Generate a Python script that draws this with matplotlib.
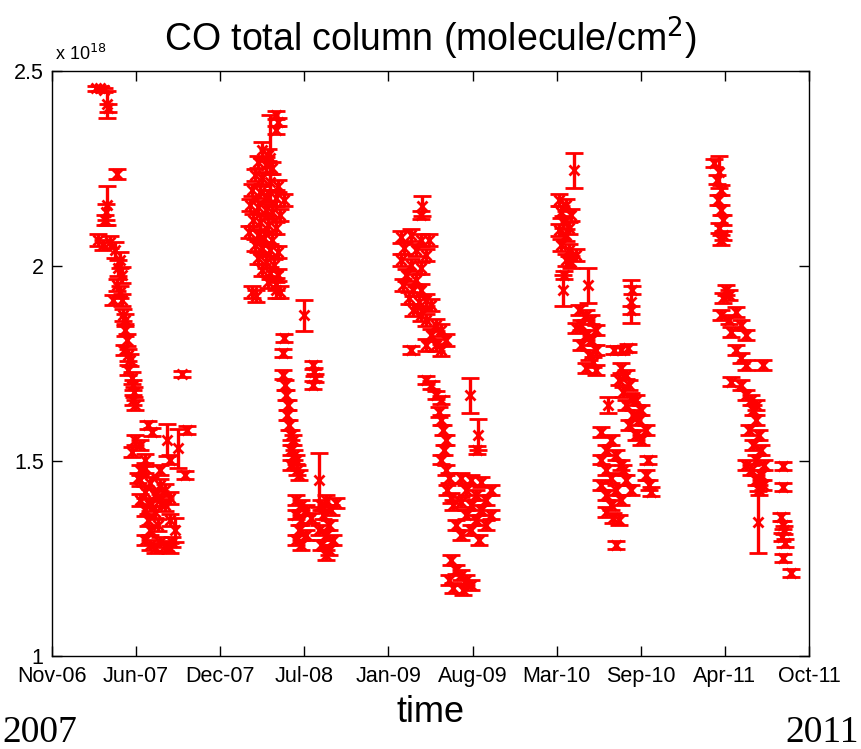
import datetime as dt
import matplotlib
matplotlib.use("Agg")
import matplotlib.pyplot as plt
import matplotlib.dates as mdates
import numpy as np

# decimal year, CO total column (x 1e18 molecule/cm2), error
t_2007 = [2007.186, 2007.212, 2007.238, 2007.258, 2007.264, 2007.323, 2007.258, 2007.251, 2007.245,
          2007.199, 2007.232, 2007.277, 2007.310, 2007.342, 2007.329, 2007.355, 2007.323, 2007.342,
          2007.355, 2007.297, 2007.362, 2007.375, 2007.375, 2007.388, 2007.368, 2007.394, 2007.407,
          2007.394, 2007.420, 2007.427, 2007.433, 2007.427, 2007.440, 2007.745, 2007.524, 2007.550,
          2007.648, 2007.719, 2007.778, 2007.440, 2007.472, 2007.420, 2007.505, 2007.472, 2007.459,
          2007.505, 2007.602, 2007.667, 2007.765, 2007.472, 2007.537, 2007.602, 2007.505, 2007.570,
          2007.635, 2007.472, 2007.537, 2007.602, 2007.667, 2007.505, 2007.570, 2007.635, 2007.524,
          2007.589, 2007.667, 2007.700, 2007.537, 2007.505, 2007.537, 2007.570, 2007.602, 2007.635,
          2007.680, 2007.667]
co_2007 = [2.456, 2.456, 2.451, 2.415, 2.405, 2.236, 2.156, 2.138, 2.118,
           2.067, 2.054, 2.062, 2.041, 2.015, 1.995, 1.977, 1.951, 1.933,
           1.913, 1.913, 1.874, 1.862, 1.836, 1.810, 1.785, 1.772, 1.759,
           1.733, 1.713, 1.695, 1.677, 1.656, 1.644, 1.723, 1.592, 1.574,
           1.554, 1.533, 1.579, 1.554, 1.541, 1.523, 1.503, 1.477, 1.456,
           1.482, 1.477, 1.503, 1.464, 1.451, 1.444, 1.438, 1.421, 1.413,
           1.426, 1.400, 1.387, 1.400, 1.405, 1.374, 1.369, 1.387, 1.349,
           1.336, 1.349, 1.323, 1.323, 1.297, 1.285, 1.277, 1.292, 1.282,
           1.292, 1.277]
err_2007 = [0.006, 0.006, 0.006, 0.035, 0.010, 0.012, 0.050, 0.020, 0.012,
            0.015, 0.012, 0.015, 0.020, 0.020, 0.020, 0.020, 0.015, 0.015,
            0.015, 0.012, 0.015, 0.015, 0.015, 0.015, 0.012, 0.015, 0.015,
            0.012, 0.015, 0.012, 0.012, 0.012, 0.012, 0.008, 0.010, 0.010,
            0.040, 0.050, 0.010, 0.012, 0.012, 0.012, 0.015, 0.012, 0.012,
            0.012, 0.012, 0.012, 0.010, 0.015, 0.015, 0.015, 0.015, 0.015,
            0.015, 0.015, 0.015, 0.015, 0.015, 0.015, 0.015, 0.015, 0.015,
            0.015, 0.015, 0.030, 0.012, 0.012, 0.012, 0.012, 0.012, 0.012,
            0.012, 0.012]

t_2008 = [2008.350, 2008.363, 2008.356, 2008.317, 2008.265, 2008.304, 2008.239, 2008.285, 2008.330,
          2008.220, 2008.265, 2008.317, 2008.369, 2008.200, 2008.252, 2008.297, 2008.350, 2008.402,
          2008.187, 2008.239, 2008.285, 2008.330, 2008.382, 2008.207, 2008.252, 2008.304, 2008.356,
          2008.181, 2008.233, 2008.278, 2008.330, 2008.220, 2008.265, 2008.317, 2008.369, 2008.239,
          2008.291, 2008.343, 2008.265, 2008.317, 2008.369, 2008.304, 2008.356, 2008.200, 2008.226,
          2008.350, 2008.376, 2008.532, 2008.402, 2008.395, 2008.590, 2008.597, 2008.603, 2008.590,
          2008.395, 2008.408, 2008.415, 2008.428, 2008.421, 2008.434, 2008.447, 2008.460, 2008.447,
          2008.467, 2008.480, 2008.447, 2008.486, 2008.499, 2008.629, 2008.480, 2008.512, 2008.545,
          2008.480, 2008.512, 2008.577, 2008.499, 2008.545, 2008.480, 2008.512, 2008.642, 2008.675,
          2008.707, 2008.655, 2008.694, 2008.740, 2008.629, 2008.675, 2008.720, 2008.642, 2008.694,
          2008.675]
co_2008 = [2.387, 2.369, 2.349, 2.277, 2.297, 2.285, 2.267, 2.259, 2.251,
           2.233, 2.226, 2.215, 2.205, 2.195, 2.190, 2.179, 2.174, 2.169,
           2.156, 2.151, 2.144, 2.138, 2.131, 2.118, 2.113, 2.105, 2.097,
           2.087, 2.079, 2.072, 2.067, 2.054, 2.046, 2.041, 2.036, 2.021,
           2.010, 2.003, 1.990, 1.982, 1.977, 1.959, 1.954, 1.933, 1.923,
           1.938, 1.933, 1.874, 1.815, 1.777, 1.746, 1.728, 1.713, 1.695,
           1.721, 1.695, 1.669, 1.644, 1.618, 1.592, 1.567, 1.554, 1.528,
           1.515, 1.503, 1.490, 1.477, 1.464, 1.451, 1.400, 1.387, 1.374,
           1.362, 1.349, 1.354, 1.323, 1.310, 1.297, 1.285, 1.387, 1.400,
           1.374, 1.362, 1.336, 1.392, 1.323, 1.310, 1.297, 1.285, 1.272,
           1.259]
err_2008 = [0.010, 0.010, 0.010, 0.110, 0.020, 0.015, 0.015, 0.020, 0.015,
            0.015, 0.015, 0.020, 0.015, 0.015, 0.015, 0.015, 0.020, 0.015,
            0.015, 0.015, 0.015, 0.015, 0.015, 0.015, 0.020, 0.015, 0.015,
            0.015, 0.015, 0.015, 0.015, 0.015, 0.015, 0.015, 0.015, 0.015,
            0.015, 0.015, 0.015, 0.015, 0.015, 0.015, 0.015, 0.015, 0.015,
            0.020, 0.015, 0.040, 0.010, 0.010, 0.010, 0.010, 0.010, 0.010,
            0.012, 0.012, 0.012, 0.012, 0.012, 0.012, 0.012, 0.012, 0.012,
            0.012, 0.012, 0.012, 0.012, 0.012, 0.070, 0.012, 0.012, 0.012,
            0.012, 0.012, 0.012, 0.012, 0.012, 0.012, 0.012, 0.012, 0.012,
            0.012, 0.012, 0.012, 0.012, 0.012, 0.012, 0.012, 0.012, 0.012,
            0.012]

t_2009 = [2009.299, 2009.292, 2009.162, 2009.227, 2009.292, 2009.344, 2009.182, 2009.260, 2009.325,
          2009.162, 2009.227, 2009.292, 2009.195, 2009.260, 2009.175, 2009.240, 2009.292, 2009.214,
          2009.279, 2009.325, 2009.357, 2009.240, 2009.292, 2009.325, 2009.390, 2009.422, 2009.357,
          2009.455, 2009.390, 2009.422, 2009.325, 2009.227, 2009.325, 2009.357, 2009.390, 2009.422,
          2009.611, 2009.663, 2009.656, 2009.409, 2009.422, 2009.435, 2009.455, 2009.442, 2009.422,
          2009.455, 2009.474, 2009.461, 2009.487, 2009.500, 2009.552, 2009.617, 2009.682, 2009.747,
          2009.585, 2009.650, 2009.715, 2009.552, 2009.617, 2009.682, 2009.747, 2009.585, 2009.650,
          2009.715, 2009.520, 2009.552, 2009.617, 2009.669, 2009.487, 2009.520, 2009.474, 2009.500,
          2009.552, 2009.585, 2009.617, 2009.565]
co_2009 = [2.154, 2.131, 2.074, 2.079, 2.067, 2.067, 2.046, 2.041, 2.028,
           2.015, 2.003, 1.995, 1.977, 1.964, 1.951, 1.938, 1.938, 1.918,
           1.908, 1.913, 1.900, 1.887, 1.874, 1.862, 1.849, 1.836, 1.823,
           1.810, 1.797, 1.785, 1.797, 1.785, 1.708, 1.695, 1.669, 1.656,
           1.669, 1.567, 1.528, 1.626, 1.605, 1.579, 1.554, 1.528, 1.503,
           1.477, 1.456, 1.426, 1.405, 1.387, 1.456, 1.451, 1.446, 1.426,
           1.426, 1.413, 1.400, 1.395, 1.387, 1.374, 1.362, 1.362, 1.349,
           1.336, 1.336, 1.310, 1.323, 1.297, 1.246, 1.221, 1.195, 1.174,
           1.208, 1.195, 1.182, 1.169]
err_2009 = [0.025, 0.010, 0.015, 0.015, 0.015, 0.015, 0.015, 0.015, 0.015,
            0.015, 0.015, 0.015, 0.015, 0.015, 0.015, 0.015, 0.015, 0.015,
            0.015, 0.015, 0.015, 0.015, 0.015, 0.015, 0.015, 0.015, 0.015,
            0.015, 0.015, 0.015, 0.015, 0.010, 0.010, 0.010, 0.010, 0.010,
            0.045, 0.040, 0.010, 0.012, 0.012, 0.012, 0.012, 0.012, 0.012,
            0.012, 0.012, 0.012, 0.012, 0.012, 0.012, 0.012, 0.012, 0.012,
            0.012, 0.012, 0.012, 0.012, 0.012, 0.012, 0.012, 0.012, 0.012,
            0.012, 0.012, 0.012, 0.012, 0.012, 0.012, 0.012, 0.012, 0.012,
            0.012, 0.012, 0.012, 0.012]

t_2010 = [2010.287, 2010.189, 2010.235, 2010.202, 2010.267, 2010.215, 2010.254, 2010.189, 2010.235,
          2010.202, 2010.254, 2010.300, 2010.235, 2010.267, 2010.215, 2010.222, 2010.378, 2010.319,
          2010.365, 2010.397, 2010.332, 2010.300, 2010.430, 2010.365, 2010.397, 2010.332, 2010.430,
          2010.384, 2010.410, 2010.365, 2010.430, 2010.657, 2010.664, 2010.657, 2010.547, 2010.592,
          2010.638, 2010.592, 2010.625, 2010.579, 2010.644, 2010.605, 2010.657, 2010.690, 2010.625,
          2010.722, 2010.670, 2010.709, 2010.644, 2010.755, 2010.690, 2010.722, 2010.508, 2010.462,
          2010.527, 2010.495, 2010.560, 2010.462, 2010.592, 2010.495, 2010.527, 2010.462, 2010.560,
          2010.495, 2010.592, 2010.527, 2010.495, 2010.540, 2010.579, 2010.605, 2010.625, 2010.657,
          2010.768, 2010.755, 2010.774, 2010.787, 2010.560]
co_2010 = [2.246, 2.169, 2.156, 2.138, 2.131, 2.113, 2.097, 2.092, 2.079,
           2.054, 2.041, 2.028, 2.015, 2.010, 1.938, 1.977, 1.951, 1.887,
           1.874, 1.862, 1.849, 1.841, 1.836, 1.823, 1.810, 1.797, 1.785,
           1.772, 1.754, 1.738, 1.733, 1.908, 1.938, 1.887, 1.785, 1.785,
           1.790, 1.738, 1.721, 1.708, 1.695, 1.677, 1.662, 1.656, 1.644,
           1.631, 1.618, 1.605, 1.592, 1.579, 1.567, 1.554, 1.644, 1.574,
           1.554, 1.528, 1.515, 1.503, 1.490, 1.477, 1.456, 1.438, 1.426,
           1.413, 1.400, 1.387, 1.369, 1.354, 1.349, 1.477, 1.451, 1.426,
           1.503, 1.464, 1.438, 1.421, 1.285]
err_2010 = [0.045, 0.015, 0.015, 0.015, 0.015, 0.015, 0.015, 0.015, 0.015,
            0.015, 0.015, 0.015, 0.015, 0.015, 0.040, 0.010, 0.045, 0.012,
            0.012, 0.012, 0.012, 0.012, 0.012, 0.012, 0.012, 0.012, 0.012,
            0.012, 0.012, 0.012, 0.012, 0.055, 0.010, 0.010, 0.010, 0.010,
            0.010, 0.012, 0.012, 0.012, 0.012, 0.012, 0.012, 0.012, 0.012,
            0.012, 0.012, 0.012, 0.012, 0.012, 0.012, 0.012, 0.020, 0.012,
            0.012, 0.012, 0.012, 0.012, 0.012, 0.012, 0.012, 0.012, 0.012,
            0.012, 0.012, 0.012, 0.012, 0.012, 0.012, 0.012, 0.012, 0.012,
            0.010, 0.012, 0.012, 0.012, 0.010]

t_2011 = [2011.197, 2011.229, 2011.216, 2011.242, 2011.223, 2011.242, 2011.255, 2011.229, 2011.255,
          2011.242, 2011.275, 2011.255, 2011.294, 2011.242, 2011.294, 2011.340, 2011.372, 2011.307,
          2011.405, 2011.340, 2011.372, 2011.405, 2011.515, 2011.307, 2011.372, 2011.405, 2011.437,
          2011.470, 2011.450, 2011.470, 2011.424, 2011.489, 2011.450, 2011.502, 2011.470, 2011.522,
          2011.405, 2011.437, 2011.502, 2011.470, 2011.515, 2011.489, 2011.483, 2011.645, 2011.645,
          2011.632, 2011.645, 2011.652, 2011.639, 2011.658, 2011.645, 2011.697]
co_2011 = [2.264, 2.241, 2.221, 2.195, 2.169, 2.144, 2.118, 2.097, 2.079,
           2.067, 1.938, 1.918, 1.926, 1.874, 1.862, 1.882, 1.849, 1.831,
           1.823, 1.785, 1.764, 1.746, 1.746, 1.703, 1.695, 1.669, 1.656,
           1.644, 1.631, 1.605, 1.579, 1.567, 1.541, 1.528, 1.503, 1.490,
           1.490, 1.477, 1.464, 1.451, 1.438, 1.426, 1.344, 1.487, 1.433,
           1.356, 1.336, 1.323, 1.305, 1.290, 1.251, 1.213]
err_2011 = [0.010, 0.040, 0.012, 0.012, 0.012, 0.012, 0.012, 0.012, 0.012,
            0.012, 0.012, 0.012, 0.012, 0.012, 0.012, 0.012, 0.012, 0.012,
            0.012, 0.012, 0.012, 0.012, 0.012, 0.012, 0.012, 0.012, 0.012,
            0.012, 0.012, 0.012, 0.012, 0.012, 0.012, 0.012, 0.012, 0.012,
            0.012, 0.012, 0.012, 0.012, 0.012, 0.012, 0.080, 0.010, 0.010,
            0.010, 0.010, 0.010, 0.010, 0.010, 0.010, 0.010]

tick_labels = ["Nov-06", "Jun-07", "Dec-07", "Jul-08", "Jan-09",
               "Aug-09", "Mar-10", "Sep-10", "Apr-11", "Oct-11"]
x_start = dt.datetime(2006, 11, 25)
x_end = dt.datetime(2011, 10, 25)
y_ticks = [1, 1.5, 2, 2.5]


def to_date(y):
    year = int(y)
    a = dt.datetime(year, 1, 1)
    b = dt.datetime(year + 1, 1, 1)
    return a + (b - a) * (y - year)


plt.rcParams['font.family'] = ['Liberation Sans', 'DejaVu Sans']

fig = plt.figure(figsize=(8.61, 7.49), dpi=100, facecolor='white')
ax = fig.add_axes([0.0604, 0.1242, 0.8792, 0.7810])

seasons = [(t_2007, co_2007, err_2007), (t_2008, co_2008, err_2008),
           (t_2009, co_2009, err_2009), (t_2010, co_2010, err_2010),
           (t_2011, co_2011, err_2011)]
for t, co, err in seasons:
    ax.errorbar([to_date(v) for v in t], co, yerr=err, fmt='x', color='red',
                ecolor='red', elinewidth=2.4, capsize=6.5, capthick=3,
                markersize=7, markeredgewidth=2)

ax.set_xlim(x_start, x_end)
ax.set_ylim(1, 2.5)
lo, hi = mdates.date2num(x_start), mdates.date2num(x_end)
ax.set_xticks(np.linspace(lo, hi, len(tick_labels)))
ax.set_xticklabels(tick_labels)
ax.set_yticks(y_ticks)
ax.set_yticklabels(['1', '1.5', '2', '2.5'])
ax.tick_params(direction='in', length=7, width=1, top=True, right=True, labelsize=15.5)
ax.tick_params(axis='x', pad=7)
ax.tick_params(axis='y', pad=6)
for s in ax.spines.values():
    s.set_linewidth(1)

ax.text(0.004, 1.012, r'x 10$^{18}$', transform=ax.transAxes, fontsize=13,
        ha='left', va='bottom')

fig.text(0.4997, 0.931, r'CO total column (molecule/cm$^2$)', fontsize=27,
         ha='center', va='baseline')
fig.text(0.4997, 0.036, 'time', fontsize=26, ha='center', va='baseline')
fig.text(0.003, 0.009, '2007', fontsize=27, family='Liberation Serif',
         ha='left', va='baseline')
fig.text(0.997, 0.009, '2011', fontsize=27, family='Liberation Serif',
         ha='right', va='baseline')

fig.savefig('out.png', dpi=100)
